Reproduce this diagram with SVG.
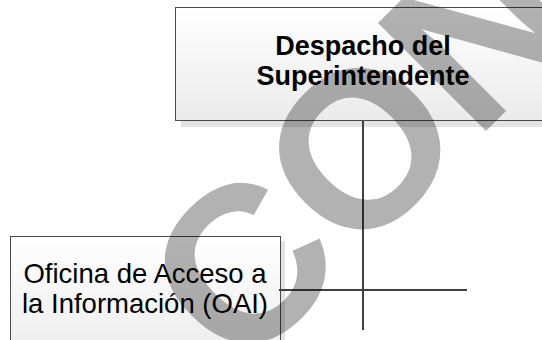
<svg xmlns="http://www.w3.org/2000/svg" width="542" height="340" viewBox="0 0 542 340">
  <defs>
    <linearGradient id="boxFill" x1="0" y1="0" x2="0" y2="1">
      <stop offset="0" stop-color="#ffffff"/>
      <stop offset="1" stop-color="#ebebeb"/>
    </linearGradient>
    <style>
      .box { fill: url(#boxFill); stroke: #4a4a4a; stroke-width: 1; }
      .shadow { fill: #e3e3e3; }
      .conn { stroke: #404040; stroke-width: 2; fill: none; }
      .lbl { font-family: "Liberation Sans", Arial, sans-serif; fill: #000; text-anchor: middle; }
      .bold { font-weight: bold; font-size: 27px; }
      .reg { font-size: 27.5px; }
      .wm { font-family: "Liberation Sans", Arial, sans-serif; font-weight: bold; font-size: 222px; fill: #000; fill-opacity: 0.3; }
    </style>
  </defs>
  <rect width="542" height="340" fill="#ffffff"/>
  <g id="node-despacho">
    <rect class="shadow" x="181" y="13" width="376" height="114"/>
    <rect class="box" x="175.5" y="7.5" width="376" height="113"/>
    <text class="lbl bold" x="363" y="55">Despacho del</text>
    <text class="lbl bold" x="363" y="85">Superintendente</text>
  </g>
  <g id="node-oai">
    <rect class="shadow" x="15" y="241" width="270" height="130"/>
    <rect class="box" x="10.5" y="236.5" width="270" height="130"/>
    <text class="lbl reg" x="145" y="283">Oficina de Acceso a</text>
    <text class="lbl reg" x="145" y="313">la Información (OAI)</text>
  </g>
  <g id="connectors">
    <line class="conn" x1="363" y1="121" x2="363" y2="330"/>
    <line class="conn" x1="279" y1="290" x2="467" y2="290"/>
  </g>
  <g id="watermark">
    <text class="wm" transform="translate(240 377) rotate(-45)">CON</text>
  </g>
</svg>
